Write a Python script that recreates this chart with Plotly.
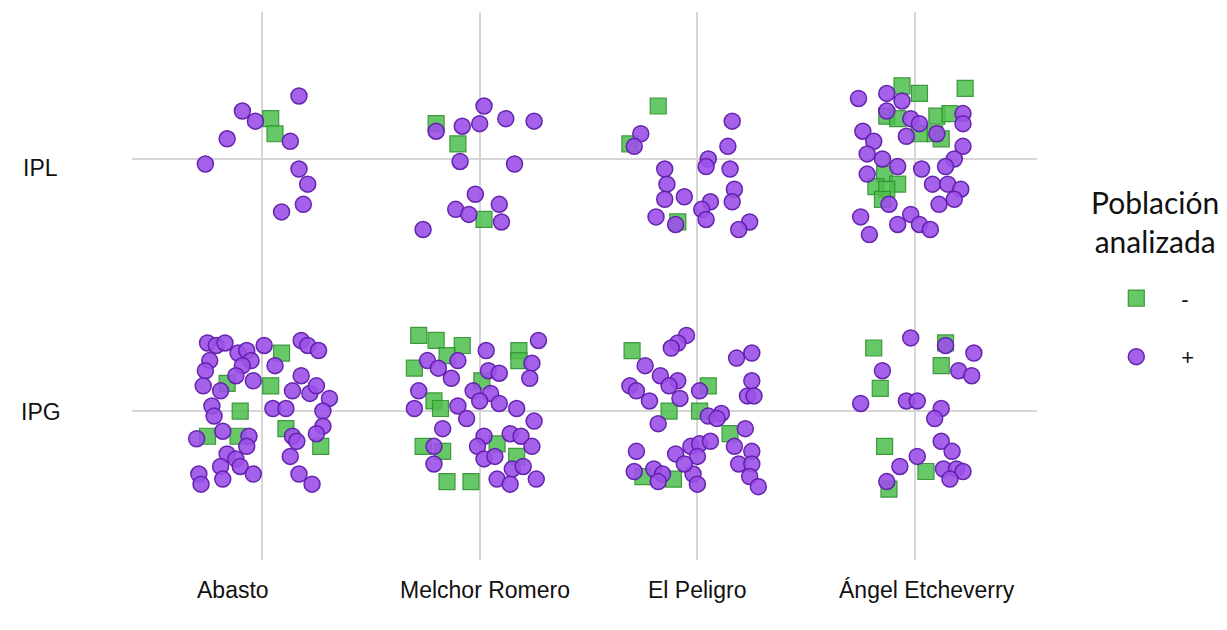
import plotly.graph_objects as go

# Sites (columns) and parasite groups (rows)
sites = ["Abasto", "Melchor Romero", "El Peligro", "Ángel Etcheverry"]
groups = ["IPG", "IPL"]          # row 0 = IPG, row 1 = IPL

# Jittered samples: (dx, dy) offsets in percent of the band around each cell
# "-" = negative population, "+" = positive population
abasto_ipl_neg = [(4, 16), (6, 10)]
abasto_ipl_pos = [(17, 25), (-9, 19), (-3, 15), (-16, 8), (13, 7), (-26, -2),
                  (17, -4), (21, -10), (19, -18), (9, -21)]

melchor_ipl_neg = [(-20, 14), (-10, 6), (2, -24)]
melchor_ipl_pos = [(2, 21), (12, 16), (25, 15), (0, 14), (-8, 13), (-20, 11),
                   (-9, -1), (16, -2), (-2, -14), (9, -18), (-11, -20),
                   (-5, -22), (10, -25), (-26, -28)]

peligro_ipl_neg = [(-18, 21), (-31, 6), (-9, -25)]
peligro_ipl_pos = [(16, 15), (-26, 10), (-29, 5), (14, 5), (5, 0), (4, -3),
                   (-15, -4), (15, -4), (-14, -10), (17, -12), (-6, -15),
                   (-15, -16), (16, -17), (6, -17), (2, -20), (-19, -23),
                   (4, -24), (-10, -26), (24, -25), (19, -28)]

angel_ipl_neg = [(-6, 29), (2, 26), (23, 28), (-13, 17), (-8, 16), (10, 17),
                 (16, 18), (9, 10), (12, 8), (2, 10), (-14, -6), (-8, -10),
                 (-18, -11), (-13, -12), (-15, -16)]
angel_ipl_pos = [(-26, 24), (-13, 26), (-6, 23), (-13, 19), (22, 18), (22, 14),
                 (-2, 16), (2, 14), (-24, 11), (-4, 9), (10, 10), (-19, 7),
                 (22, 5), (-22, 2), (-15, 0), (18, 0), (14, -3), (-8, -3),
                 (3, -4), (-22, -6), (8, -10), (15, -10), (21, -12), (18, -16),
                 (11, -18), (-12, -18), (-25, -23), (-8, -26), (-2, -22),
                 (2, -26), (7, -28), (-21, -30)]

abasto_ipg_neg = [(9, 23), (-16, 11), (4, 10), (-10, 0), (11, -7), (-25, -10),
                  (-11, -10), (27, -14)]
abasto_ipg_pos = [(-25, 27), (-21, 26), (-17, 27), (-11, 23), (-7, 24), (1, 26),
                  (-5, 20), (-9, 18), (6, 18), (18, 28), (21, 26), (26, 24),
                  (-24, 20), (-26, 16), (-12, 14), (-4, 12), (-27, 10),
                  (-19, 8), (18, 14), (14, 8), (22, 7), (25, 10), (31, 5),
                  (-23, 2), (-22, -2), (5, 1), (11, 1), (28, 0), (28, -6),
                  (25, -9), (-18, -8), (-30, -11), (-6, -10), (-7, -14),
                  (14, -10), (16, -12), (13, -18), (-16, -17), (-12, -19),
                  (-19, -22), (-10, -22), (-4, -25), (-29, -25), (-28, -29),
                  (-18, -27), (17, -25), (23, -29)]

melchor_ipg_neg = [(-28, 30), (-20, 28), (-8, 26), (-30, 17), (18, 24), (18, 20),
                   (-15, 22), (1, 12), (-21, 4), (-18, 1), (-26, -14),
                   (-17, -16), (17, -18), (8, -13), (-15, -28), (-4, -28)]
melchor_ipg_pos = [(27, 28), (3, 24), (-24, 20), (-19, 17), (-10, 20), (24, 19),
                   (4, 16), (9, 15), (-13, 13), (23, 13), (-28, 8), (-3, 8),
                   (5, 7), (0, 4), (9, 3), (-10, 2), (-30, 1), (17, 1),
                   (-6, -3), (25, -4), (-17, -7), (2, -10), (14, -9), (19, -10),
                   (-1, -14), (24, -14), (-21, -14), (2, -19), (7, -18),
                   (-21, -21), (15, -23), (20, -22), (8, -27), (14, -29),
                   (26, -27)]

peligro_ipg_neg = [(-30, 24), (5, 10), (-13, 0), (1, 0), (15, -9), (-25, -26),
                   (-11, -27)]
peligro_ipg_pos = [(-5, 30), (-9, 27), (-12, 25), (18, 21), (25, 23), (-24, 18),
                   (-17, 14), (-9, 12), (-13, 10), (-31, 10), (-28, 8), (1, 8),
                   (25, 12), (23, 6), (26, 6), (-22, 4), (-8, 5), (5, -2),
                   (11, -1), (9, -3), (-18, -5), (22, -7), (-28, -16),
                   (-10, -17), (-3, -14), (1, -13), (6, -12), (0, -18),
                   (17, -14), (25, -16), (19, -21), (25, -21), (-29, -24),
                   (-20, -23), (-16, -25), (-18, -28), (-2, -25), (0, -29),
                   (24, -26), (28, -30), (-6, -21)]

angel_ipg_neg = [(-19, 25), (14, 27), (12, 18), (-16, 9), (-14, -14), (5, -24),
                 (-12, -31)]
angel_ipg_pos = [(-2, 29), (14, 26), (27, 23), (-15, 16), (20, 16), (26, 14),
                 (-25, 3), (-4, 4), (1, 4), (12, 1), (9, -3), (12, -12),
                 (17, -16), (1, -18), (-7, -22), (13, -23), (19, -23),
                 (22, -24), (16, -27), (-13, -28)]

neg_cells = [
    (0, 1, abasto_ipl_neg), (1, 1, melchor_ipl_neg), (2, 1, peligro_ipl_neg),
    (3, 1, angel_ipl_neg), (0, 0, abasto_ipg_neg), (1, 0, melchor_ipg_neg),
    (2, 0, peligro_ipg_neg), (3, 0, angel_ipg_neg),
]
pos_cells = [
    (0, 1, abasto_ipl_pos), (1, 1, melchor_ipl_pos), (2, 1, peligro_ipl_pos),
    (3, 1, angel_ipl_pos), (0, 0, abasto_ipg_pos), (1, 0, melchor_ipg_pos),
    (2, 0, peligro_ipg_pos), (3, 0, angel_ipg_pos),
]


def expand(cells):
    xs, ys = [], []
    for col, row, pts in cells:
        for dx, dy in pts:
            xs.append(col + dx / 100)
            ys.append(row + dy / 100)
    return xs, ys


neg_x, neg_y = expand(neg_cells)
pos_x, pos_y = expand(pos_cells)

fig = go.Figure()
fig.add_trace(go.Scatter(
    x=neg_x, y=neg_y, mode="markers", name="-", legendgroup="neg",
    marker=dict(symbol="square", size=16, color="rgba(76,190,76,0.85)",
                line=dict(color="rgba(50,145,50,0.9)", width=1.2)),
))
fig.add_trace(go.Scatter(
    x=pos_x, y=pos_y, mode="markers", name="+", legendgroup="pos",
    marker=dict(symbol="circle", size=16, color="rgba(155,80,232,0.9)",
                line=dict(color="rgba(95,30,170,0.95)", width=1.5)),
))

label_font = dict(family="Liberation Sans, Arial, sans-serif", size=23, color="#111111")
site_label_x = [-0.133, 1.024, 1.998, 3.055]
annotations = []
for name, xpos in zip(sites, site_label_x):
    annotations.append(dict(x=xpos, y=-0.055, xref="x", yref="paper",
                            text=name, showarrow=False, font=label_font,
                            xanchor="center", yanchor="middle"))
for name, row in zip(groups, [0, 1]):
    annotations.append(dict(x=-0.101, y=row, xref="paper", yref="y",
                            yshift=-9 if row == 1 else -1,
                            text=name, showarrow=False, font=label_font,
                            xanchor="center", yanchor="middle"))

# Legend heading
annotations.append(dict(x=1.13, y=0.618, xref="paper", yref="paper",
                        text="Población<br>analizada", showarrow=False, align="center",
                        font=dict(family="Lato, sans-serif", size=30, color="#111111"),
                        xanchor="center", yanchor="middle"))

fig.update_layout(
    width=1227, height=630,
    margin=dict(l=132, r=190, t=12, b=70),
    paper_bgcolor="white", plot_bgcolor="white",
    xaxis=dict(range=[-0.597, 3.56], tickvals=[0, 1, 2, 3], showticklabels=False,
               showgrid=True, gridcolor="#d6d6d6", gridwidth=2,
               zeroline=False, showline=False, fixedrange=True),
    yaxis=dict(range=[-0.591, 1.583], tickvals=[0, 1], showticklabels=False,
               showgrid=True, gridcolor="#d6d6d6", gridwidth=2,
               zeroline=False, showline=False, fixedrange=True),
    showlegend=True,
    legend=dict(
        font=dict(family="Liberation Sans, Arial, sans-serif", size=22, color="#111111"),
        x=1.06, xanchor="left", xref="paper", y=0.516, yanchor="top",
        itemwidth=80, traceorder="grouped", tracegroupgap=27,
        bgcolor="rgba(0,0,0,0)",
    ),
    annotations=annotations,
)

fig.write_html("out.html")
